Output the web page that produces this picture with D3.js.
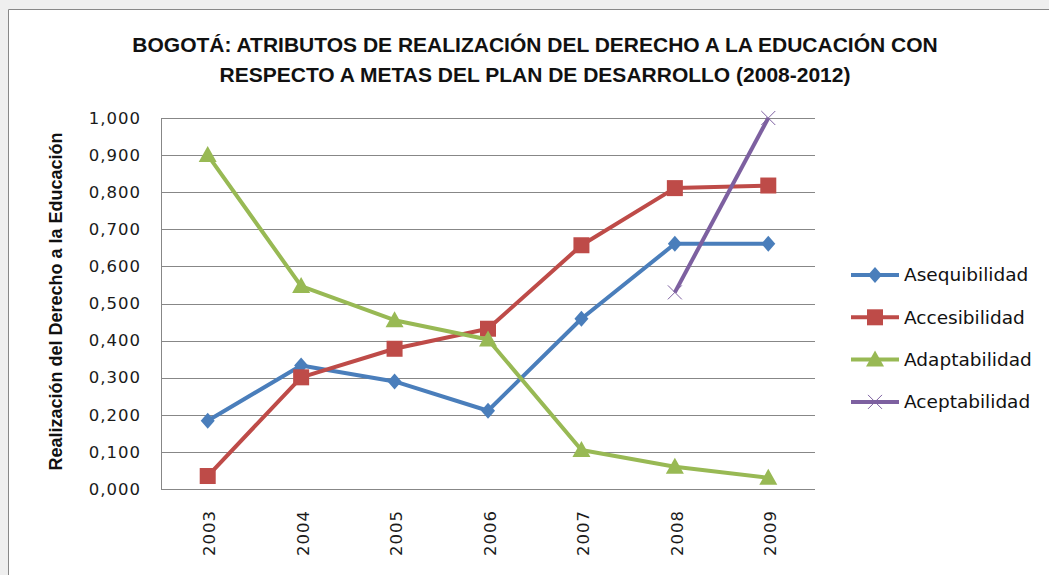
<!DOCTYPE html>
<html><head><meta charset="utf-8">
<script src="https://cdn.jsdelivr.net/npm/d3@7"></script>
<style>body{margin:0;background:#fff}svg{display:block}</style>
</head><body><svg id="c" width="1049" height="575"></svg>
<script>
const years = ["2003","2004","2005","2006","2007","2008","2009"];
const yTicks = [0,0.1,0.2,0.3,0.4,0.5,0.6,0.7,0.8,0.9,1.0];
const asequibilidad = [0.184,0.333,0.290,0.211,0.459,0.661,0.661];
const accesibilidad = [0.035,0.301,0.378,0.432,0.657,0.811,0.818];
const adaptabilidad = [0.900,0.547,0.455,0.403,0.105,0.060,0.030];
const aceptabilidad = [null,null,null,null,null,0.530,1.000];
const seriesNames = ["Asequibilidad","Accesibilidad","Adaptabilidad","Aceptabilidad"];
const titleLines = ["BOGOTÁ: ATRIBUTOS DE REALIZACIÓN DEL DERECHO A LA EDUCACIÓN CON","RESPECTO A METAS DEL PLAN DE DESARROLLO (2008-2012)"];
const yTitle = "Realización del Derecho a la Educación";

const series = [
  {name:seriesNames[0], values:asequibilidad, color:"#4a7ebb", marker:"diamond"},
  {name:seriesNames[1], values:accesibilidad, color:"#be4b48", marker:"square"},
  {name:seriesNames[2], values:adaptabilidad, color:"#98b954", marker:"triangle"},
  {name:seriesNames[3], values:aceptabilidad, color:"#7d60a0", marker:"x"}
];

const svg = d3.select("#c");
// background strip & frame
svg.append("rect").attr("x",0).attr("y",0).attr("width",1049).attr("height",9).attr("fill","#efefef");
svg.append("rect").attr("x",0).attr("y",0).attr("width",8).attr("height",575).attr("fill","#efefef");
svg.append("path").attr("d","M8.5,575 V9.5 H1049").attr("fill","none").attr("stroke","#888").attr("stroke-width",1);

const L=161, R=815, T=118, B=489;
const x = d3.scaleBand().domain(years).range([L,R]);
const y = d3.scaleLinear().domain([0,1]).range([B,T]);
const fmt = v => d3.format(".3f")(v).replace(".",",");

const g = svg.append("g");
// gridlines
g.selectAll("line.grid").data(yTicks).join("line")
  .attr("x1",L).attr("x2",R)
  .attr("y1",d=>Math.round(y(d))+0.5).attr("y2",d=>Math.round(y(d))+0.5)
  .attr("stroke","#878787").attr("stroke-width",1);
// y axis line
g.append("line").attr("x1",L+0.5).attr("x2",L+0.5).attr("y1",T).attr("y2",B+1).attr("stroke","#878787");

const tickFont = sel => sel.attr("font-family","DejaVu Sans, Verdana, sans-serif").attr("font-size","16.5px")
  .attr("letter-spacing","1px").attr("fill","#1a1a1a");

const yAxis = d3.axisLeft(y).tickValues(yTicks).tickFormat(fmt).tickSize(0).tickPadding(0);
const ya = svg.append("g").attr("transform",`translate(${L-20},0)`).call(yAxis);
ya.select(".domain").remove();
ya.selectAll("text").call(tickFont);

const xAxis = d3.axisBottom(x).tickSize(0).tickPadding(0);
const xa = svg.append("g").attr("transform",`translate(2,${B+21})`).call(xAxis);
xa.select(".domain").remove();
xa.selectAll("text").call(tickFont)
  .attr("text-anchor","end").attr("dy","0.35em").attr("transform","rotate(-90)").attr("x",0).attr("y",0);

// title
svg.append("g").selectAll("text").data(titleLines).join("text")
  .attr("x",535).attr("y",(d,i)=>52+i*30).attr("text-anchor","middle")
  .attr("font-family","Liberation Sans Narrow, Arial Narrow, sans-serif").attr("font-weight","bold")
  .attr("font-size","21px").attr("fill","#111").text(d=>d);

// y title
svg.append("text").attr("transform",`translate(62,${(T+B)/2-2}) rotate(-90)`).attr("text-anchor","middle")
  .attr("font-family","Liberation Sans Narrow, Arial Narrow, sans-serif").attr("font-weight","bold")
  .attr("font-size","18px").attr("fill","#111").text(yTitle);

function drawMarker(sel, type, color){
  if(type==="diamond") sel.append("path").attr("d","M0,-8 L7,0 L0,8 L-7,0Z").attr("fill",color);
  else if(type==="square") sel.append("rect").attr("x",-8).attr("y",-8).attr("width",16).attr("height",16).attr("fill",color);
  else if(type==="triangle") sel.append("path").attr("d","M0,-9 L9,7 L-9,7Z").attr("fill",color);
  else if(type==="x") sel.append("path").attr("d","M-7,-7 L7,7 M-7,7 L7,-7").attr("stroke",color).attr("stroke-width",1).attr("fill","none");
}

const line = d3.line().defined(d=>d.v!=null).x(d=>x(d.yr)+x.bandwidth()/2).y(d=>y(d.v));
series.forEach(s=>{
  const pts = years.map((yr,i)=>({yr, v:s.values[i]}));
  svg.append("path").datum(pts).attr("d",line).attr("fill","none").attr("stroke",s.color)
    .attr("stroke-width",4).attr("stroke-linejoin","round");
  pts.filter(p=>p.v!=null).forEach(p=>{
    const m = svg.append("g").attr("transform",`translate(${x(p.yr)+x.bandwidth()/2},${y(p.v)})`);
    drawMarker(m, s.marker, s.color);
  });
});

// legend
const lg = svg.append("g");
series.forEach((s,i)=>{
  const yy = 275 + i*42.3;
  lg.append("line").attr("x1",851).attr("x2",899).attr("y1",yy).attr("y2",yy).attr("stroke",s.color).attr("stroke-width",4);
  const m = lg.append("g").attr("transform",`translate(875,${yy})`);
  drawMarker(m, s.marker, s.color);
  lg.append("text").attr("x",904).attr("y",yy).attr("dy","0.35em")
    .attr("font-family","DejaVu Sans, Verdana, sans-serif").attr("font-size","18.5px").attr("fill","#111").text(s.name);
});
</script></body></html>
